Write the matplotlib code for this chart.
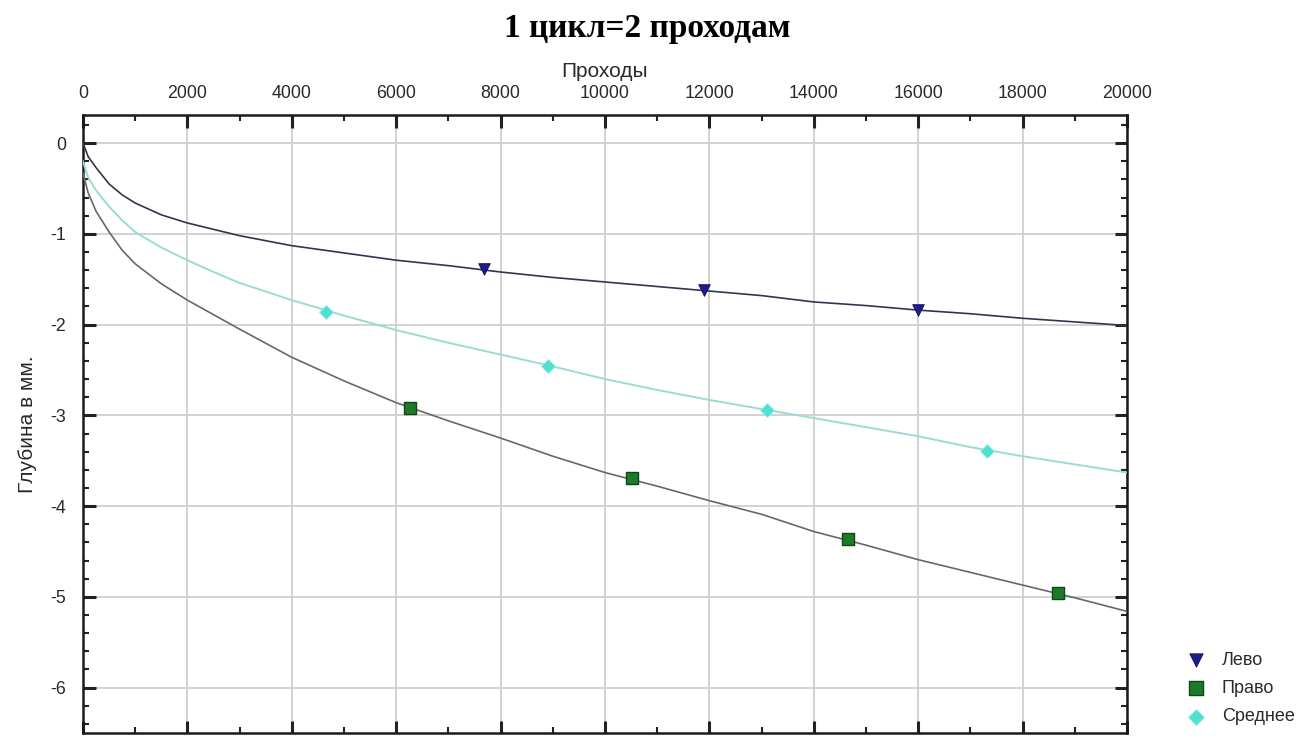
import matplotlib
matplotlib.use("Agg")
import matplotlib.pyplot as plt
from matplotlib.ticker import MultipleLocator

plt.rcParams['font.family'] = ['Liberation Sans', 'DejaVu Sans']

# Passes (x) and depth in mm for each track
passes = [0, 100, 250, 500, 750, 1000, 1500, 2000, 2500, 3000, 4000, 5000,
          6000, 7000, 8000, 9000, 10000, 11000, 12000, 13000, 14000, 15000,
          16000, 17000, 18000, 19000, 20000]

depth_left = [0.00, -0.15, -0.27, -0.45, -0.57, -0.66, -0.79, -0.88, -0.95,
              -1.02, -1.13, -1.21, -1.29, -1.35, -1.42, -1.48, -1.53, -1.58,
              -1.63, -1.68, -1.75, -1.79, -1.84, -1.88, -1.93, -1.97, -2.01]

depth_right = [-0.33, -0.55, -0.75, -0.98, -1.18, -1.33, -1.55, -1.73, -1.89,
               -2.05, -2.36, -2.62, -2.86, -3.06, -3.25, -3.45, -3.63, -3.78,
               -3.94, -4.09, -4.28, -4.43, -4.59, -4.73, -4.87, -5.01, -5.16]

depth_mid = [-0.20, -0.38, -0.52, -0.70, -0.85, -0.98, -1.15, -1.29, -1.42,
             -1.54, -1.73, -1.90, -2.06, -2.20, -2.33, -2.46, -2.60, -2.72,
             -2.83, -2.93, -3.03, -3.13, -3.23, -3.35, -3.45, -3.54, -3.63]

# Marker positions along each curve
mark_left_x = [7690, 11900, 16000]
mark_left_y = [-1.39, -1.62, -1.84]
mark_right_x = [6270, 10520, 14650, 18670]
mark_right_y = [-2.92, -3.69, -4.36, -4.96]
mark_mid_x = [4660, 8910, 13110, 17320]
mark_mid_y = [-1.86, -2.46, -2.94, -3.39]

labels = ['Лево', 'Право', 'Среднее']
x_ticks = list(range(0, 20001, 2000))
y_ticks = [0, -1, -2, -3, -4, -5, -6]

fig = plt.figure(figsize=(12.98, 7.38), dpi=100)
ax = fig.add_axes([83 / 1298, 5 / 738, (1127 - 83) / 1298, (733 - 115) / 738])

ax.plot(passes, depth_left, color='#34344e', lw=1.2, zorder=3)
ax.plot(passes, depth_mid, color='#9adcd4', lw=1.4, zorder=3)
ax.plot(passes, depth_right, color='#686868', lw=1.2, zorder=3)

h1 = ax.scatter(mark_left_x, mark_left_y, marker='v', s=70, color='#1c1c8a',
                edgecolors='#10105a', linewidths=0.6, zorder=4, label=labels[0])
h2 = ax.scatter(mark_right_x, mark_right_y, marker='s', s=80, color='#1e7a2a',
                edgecolors='#0c4a14', linewidths=1.0, zorder=4, label=labels[1])
h3 = ax.scatter(mark_mid_x, mark_mid_y, marker='D', s=50, color='#4fe0d0',
                edgecolors='#8aeee4', linewidths=0.6, zorder=4, label=labels[2])

ax.set_xlim(0, 20000)
ax.set_ylim(-6.5, 0.31)
ax.set_xticks(x_ticks)
ax.set_yticks(y_ticks)
ax.set_yticklabels([str(v) for v in y_ticks])
ax.xaxis.set_minor_locator(MultipleLocator(1000))
ax.yaxis.set_minor_locator(MultipleLocator(0.2))

ax.xaxis.tick_top()
ax.xaxis.set_label_position('top')
ax.tick_params(which='both', direction='in', top=True, bottom=True,
               left=True, right=True, colors='#222222', labelcolor='#2a2a2a')
ax.tick_params(which='major', length=9, width=2.2, labelsize=12.8)
ax.tick_params(axis='x', which='major', pad=9)
ax.tick_params(axis='y', which='major', pad=12)
ax.tick_params(which='minor', length=4, width=1.5)

ax.grid(True, which='major', color='#cfcfcf', lw=1.3, zorder=1)
for s in ax.spines.values():
    s.set_linewidth(1.8)
    s.set_color('#1a1a1a')

ax.set_xlabel('Проходы', fontsize=15, color='#2a2a2a', labelpad=6)
ax.set_ylabel('Глубина в мм.', fontsize=15, color='#2a2a2a', labelpad=10)

fig.text(0.4985, 0.962, '1 цикл=2 проходам', ha='center', va='center',
         fontsize=24, fontweight='bold', family='Liberation Serif')

fig.legend(handles=[h1, h2, h3], labels=labels, loc='lower left',
           bbox_to_anchor=(1174 / 1298, 0.0), frameon=False, fontsize=13,
           handlelength=1.0, borderaxespad=0.3, handletextpad=0.94,
           labelspacing=0.62, labelcolor='#2a2a2a', markerscale=1.15)

fig.savefig('out.png', dpi=100)
